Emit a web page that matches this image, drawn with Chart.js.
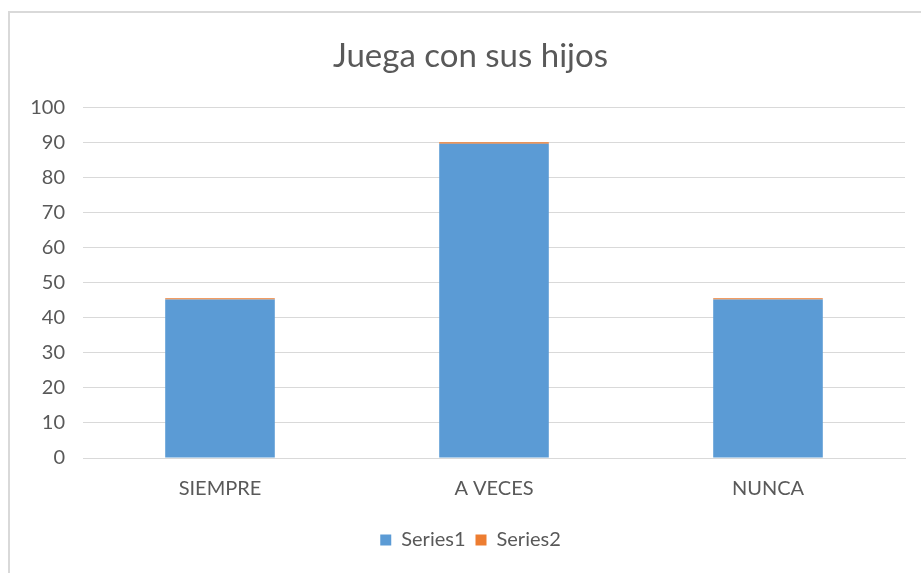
<!DOCTYPE html>
<html lang="es">
<head>
<meta charset="utf-8">
<title>Juega con sus hijos</title>
<script src="https://cdn.jsdelivr.net/npm/chart.js@4.4.1/dist/chart.umd.min.js"></script>
<style>
  body { margin: 0; background: #fff; }
  .wrap { position: relative; width: 921px; height: 573px; }
  .frame { position: absolute; left: 8px; top: 11px; width: 930px; height: 580px;
           border-left: 2px solid #d9d9d9; border-top: 2px solid #d9d9d9; }
  canvas { position: absolute; left: 0; top: 0; }
</style>
</head>
<body>
<div class="wrap">
  <div class="frame"></div>
  <canvas id="chart" width="921" height="573"></canvas>
</div>
<script>
  const categories = ['SIEMPRE', 'A VECES', 'NUNCA'];
  const series1 = [45.2, 89.7, 45.2];
  const series2 = [0.4, 0.4, 0.4];
  const yTicks = [0, 10, 20, 30, 40, 50, 60, 70, 80, 90, 100];

  const textColor = '#595959';
  const gridColor = '#d9d9d9';

  // the y axis box is narrow (so title/legend centre on the frame), widen its clip area after layout
  const yLabelRoom = {
    id: 'yLabelRoom',
    afterLayout(chart) { chart.scales.y.left = 0; }
  };

  new Chart(document.getElementById('chart'), {
    type: 'bar',
    data: {
      labels: categories,
      datasets: [
        { label: 'Series1', data: series1, backgroundColor: '#5b9bd5', barPercentage: 0.4, categoryPercentage: 1 },
        { label: 'Series2', data: series2, backgroundColor: '#ed7d31', barPercentage: 0.4, categoryPercentage: 1 }
      ]
    },
    plugins: [yLabelRoom],
    options: {
      responsive: false,
      animation: false,
      layout: { padding: { left: 36, right: 16, top: 0, bottom: 13 } },
      plugins: {
        title: {
          display: true,
          text: 'Juega con sus hijos',
          color: textColor,
          font: { family: 'Lato', size: 33, weight: 'normal' },
          padding: { top: 37, bottom: 31 }
        },
        legend: {
          position: 'bottom',
          labels: {
            color: textColor,
            font: { family: 'Lato', size: 20 },
            boxWidth: 11,
            boxHeight: 11,
            padding: 10
          }
        },
        tooltip: { enabled: false }
      },
      scales: {
        x: {
          stacked: true,
          grid: { display: false, drawTicks: false },
          border: { color: gridColor },
          ticks: { color: textColor, font: { family: 'Lato', size: 20 }, padding: 19 }
        },
        y: {
          stacked: true,
          min: 0,
          max: 100,
          afterBuildTicks: (s) => { s.ticks = yTicks.map(v => ({ value: v })); },
          afterFit: (s) => { s.width = 47; },
          grid: { color: gridColor, drawTicks: false },
          border: { display: false },
          ticks: { color: textColor, font: { family: 'Lato', size: 20 }, padding: 18 }
        }
      }
    }
  });
</script>
</body>
</html>
